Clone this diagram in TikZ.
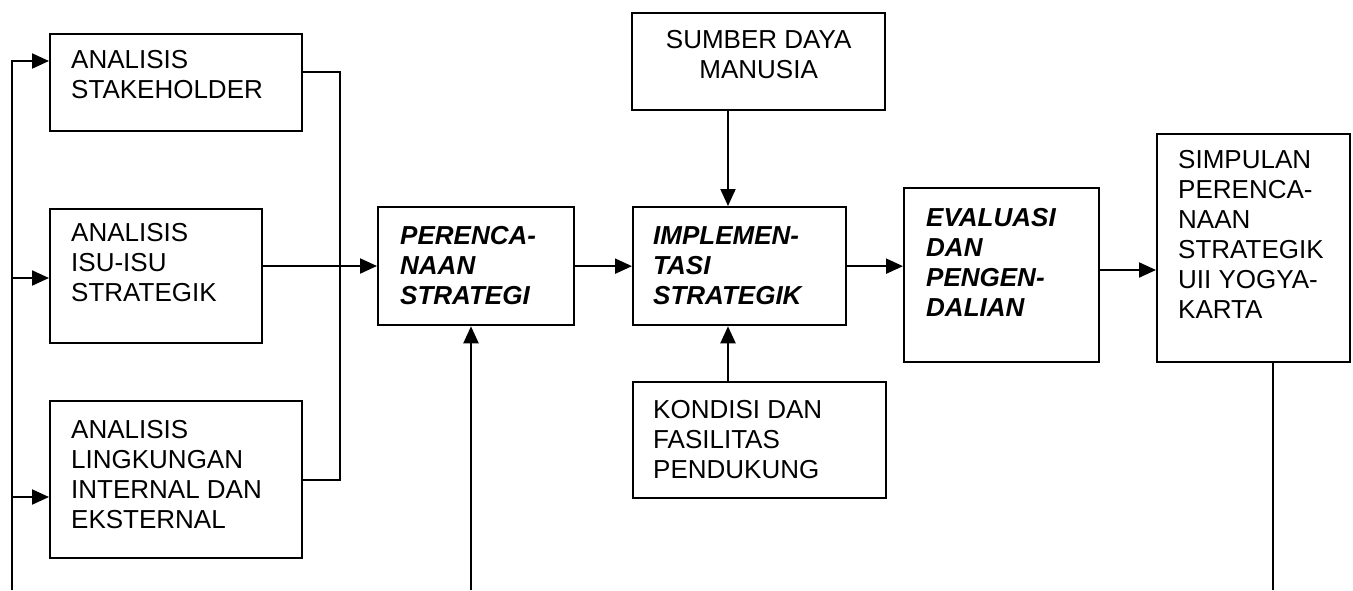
\documentclass[tikz,border=0pt]{standalone}
\usepackage{fontspec}
\setmainfont{Liberation Sans}
\usetikzlibrary{arrows.meta}

\tikzset{
  box/.style={draw, line width=2.3pt, inner sep=0pt, anchor=north west},
  txt/.style={anchor=north west, align=left, inner sep=0pt,
              font=\fontsize{26}{30}\selectfont},
  bitxt/.style={txt, font=\fontsize{26}{30}\selectfont\bfseries\itshape},
  link/.style={line width=2.1pt},
  arr/.style={link, -{Triangle[length=17pt,width=15pt]}}
}

% box from its top-left and bottom-right corners (y grows downwards)
\newcommand\mkbox[5]{%
  \node[box, minimum width={(#4)-(#2)}, minimum height={(#5)-(#3)}] (#1) at (#2,#3) {};}

\begin{document}
\begin{tikzpicture}[x=1pt, y=-1pt]
\useasboundingbox (0,0) rectangle (1353,590);

% boxes
\mkbox{a1}{49}{33}{301}{130}
\mkbox{a2}{49}{208}{261}{342}
\mkbox{a3}{49}{400}{301}{557}
\mkbox{per}{377}{206}{573}{324}
\mkbox{imp}{632}{206}{845}{324}
\mkbox{sdm}{631}{12}{884}{109}
\mkbox{kon}{632}{381}{885}{497}
\mkbox{eva}{903}{187}{1098}{361}
\mkbox{sim}{1156}{133}{1349}{361}

% box texts
\node[txt] (a1t) at ([shift={(22,17)}]a1.north west) {ANALISIS\\STAKEHOLDER};
\node[txt] (a2t) at ([shift={(22,15)}]a2.north west) {ANALISIS\\ISU-ISU\\STRATEGIK};
\node[txt] (a3t) at ([shift={(22,20)}]a3.north west) {ANALISIS\\LINGKUNGAN\\INTERNAL DAN\\EKSTERNAL};
\node[bitxt] (pert) at ([shift={(23,20)}]per.north west) {PERENCA-\\NAAN\\STRATEGI};
\node[bitxt] (impt) at ([shift={(21,20)}]imp.north west) {IMPLEMEN-\\TASI\\STRATEGIK};
\node[txt, anchor=north, align=center] (sdmt) at ([shift={(0,18)}]sdm.north) {SUMBER DAYA\\MANUSIA};
\node[txt] (kont) at ([shift={(21,19)}]kon.north west) {KONDISI DAN\\FASILITAS\\PENDUKUNG};
\node[bitxt] (evat) at ([shift={(23,21)}]eva.north west) {EVALUASI\\DAN\\PENGEN-\\DALIAN};
\node[txt] (simt) at ([shift={(22,17)}]sim.north west) {SIMPULAN\\PERENCA-\\NAAN\\STRATEGIK\\UII YOGYA-\\KARTA};

% helper points
\coordinate (fb1) at (12,590);
\coordinate (fb2) at (471,590);
\coordinate (fb3) at (1273,590);
\coordinate (jn) at (340,72);
\coordinate (vx) at (728,0);

% feedback line on the left feeding the three analyses
\draw[arr] (fb1) |- (a1.west |- 0,61);
\draw[arr] (fb1 |- 0,278) -- (a2.west |- 0,278);
\draw[arr] (fb1 |- 0,497) -- (a3.west |- 0,497);

% analyses joined on the right
\draw[link] (a1.east |- jn) -- (jn) |- (a3.east);
\draw[arr] (a2.east |- 0,266) -- (per.west |- 0,266);

% main chain
\draw[arr] (fb2) -- (per.south -| fb2);
\draw[arr] (per.east) -- (imp.west);
\draw[arr] (sdm.south -| vx) -- (imp.north -| vx);
\draw[arr] (kon.north -| vx) -- (imp.south -| vx);
\draw[arr] (imp.east) -- (imp.east -| eva.west);
\draw[arr] (eva.east |- 0,270) -- (sim.west |- 0,270);
\draw[link] (sim.south -| fb3) -- (fb3);
\end{tikzpicture}
\end{document}
